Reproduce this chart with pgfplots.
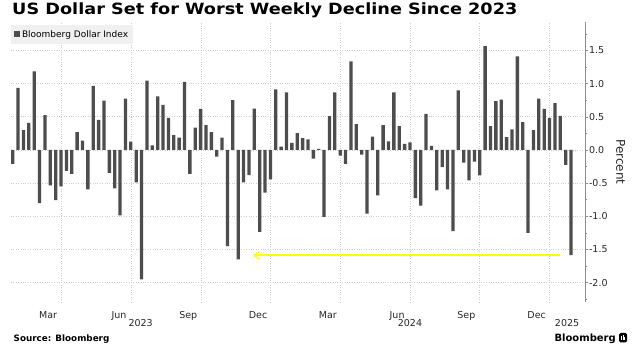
\documentclass[border=0pt]{standalone}
\usepackage{fontspec}
\setmainfont{DejaVu Sans}
\usepackage{pgfplots}
\usepackage{pgfplotstable}
\pgfplotsset{compat=1.18}
\usetikzlibrary{arrows.meta,calc}
\definecolor{barcol}{HTML}{4D4D4D}
\definecolor{gridcol}{HTML}{CDCDCD}
\definecolor{legbg}{HTML}{F0F0F0}
\definecolor{arrowcol}{HTML}{FFFF00}
\definecolor{axiscol}{HTML}{8C8C8C}

\pgfplotstableread{
idx val
1 -0.21
2 0.935
3 0.30
4 0.41
5 1.185
6 -0.80
7 0.525
8 -0.535
9 -0.755
10 -0.55
11 -0.315
12 -0.36
13 0.27
14 0.14
15 -0.595
16 0.965
17 0.455
18 0.745
19 -0.345
20 -0.58
21 -0.985
22 0.775
23 0.125
24 -0.49
25 -1.95
26 1.045
27 0.07
28 0.81
29 0.68
30 0.485
31 0.225
32 0.185
33 1.025
34 -0.36
35 0.335
36 0.62
37 0.375
38 0.27
39 -0.10
40 0.185
41 -1.45
42 0.75
43 -1.65
44 -0.49
45 -0.38
46 0.625
47 -1.235
48 -0.645
49 -0.445
50 0.915
51 0.05
52 0.87
53 0.105
54 0.255
55 0.18
56 0.16
57 -0.13
58 0.015
59 -1.01
60 0.51
61 0.87
62 -0.085
63 -0.21
64 1.335
65 0.39
66 -0.07
67 -0.96
68 0.20
69 -0.685
70 0.375
71 0.13
72 0.87
73 0.36
74 0.09
75 0.115
76 -0.725
77 -0.84
78 0.545
79 0.06
80 -0.61
81 -0.26
82 -0.595
83 -1.225
84 0.90
85 -0.19
86 -0.46
87 -0.175
88 -0.385
89 1.565
90 0.36
91 0.735
92 0.76
93 0.195
94 0.31
95 1.41
96 0.42
97 -1.25
98 0.30
99 0.775
100 0.62
101 0.485
102 0.705
103 0.515
104 -0.225
105 -1.585
}\dxytable

\begin{document}
\begin{tikzpicture}
\useasboundingbox (0,0) rectangle (640pt,355pt);
\fill[white] (0,0) rectangle (640pt,355pt);
\node[anchor=base west, inner sep=0pt, font=\fontsize{15.5}{15.5}\selectfont\bfseries] at (12pt,340pt) {\scalebox{1.14}[1]{US Dollar Set for Worst Weekly Decline Since 2023}};
\begin{axis}[
  at={(11pt,53pt)}, anchor=south west,
  scale only axis, width=574pt, height=280pt,
  clip=false,
  xmin=0.68, xmax=107.6, ymin=-2.293, ymax=1.93,
  axis y line*=right, axis x line*=bottom,
  x axis line style={draw=none},
  y axis line style={axiscol, line width=0.8pt},
  xtick={7.6,20.8,33.7,46.7,59.7,72.6,85.5,98.6},
  xticklabels={Mar,Jun,Sep,Dec,Mar,Jun,Sep,Dec},
  xtick style={draw=none},
  xticklabel style={anchor=base, yshift=-13.2pt, font=\fontsize{9.5}{9.5}\selectfont, text=black!85},
  extra x ticks={10.0,23.17,36.08,49.06,62.1,75.0,87.9,100.96},
  extra x tick labels={},
  extra x tick style={grid=major, tick style={draw=none}},
  ytick={-2,-1.5,-1,-0.5,0,0.5,1,1.5},
  minor ytick={-2.25,-1.75,-1.25,-0.75,-0.25,0.25,0.75,1.25,1.75},
  ymajorgrids,
  major grid style={gridcol, dotted, line width=0.7pt},
  tick align=outside,
  ytick style={axiscol, line width=0.6pt},
  major tick length=3pt, minor tick length=2pt,
  yticklabel style={font=\fontsize{9.5}{9.5}\selectfont, text=black!85, xshift=-2.5pt,
    /pgf/number format/fixed, /pgf/number format/fixed zerofill,
    /pgf/number format/precision=1, /pgf/number format/assume math mode=true},
  legend style={at={(0,1)}, anchor=north west, yshift=-2.5pt, fill=legbg, draw=none,
    font=\fontsize{9}{9}\selectfont, inner xsep=3pt, inner ysep=3.5pt, cells={anchor=west}},
]
\addplot[ybar, bar width=3.3pt, fill=barcol, draw=none,
  legend image code/.code={\fill[barcol] (0pt,-2.9pt) rectangle (5.8pt,2.9pt);}]
  table[x=idx, y=val]{\dxytable};
\addlegendentry{Bloomberg Dollar Index}
\draw[draw=arrowcol, line width=1.8pt] (axis cs:103,-1.59) -- (axis cs:46.3,-1.59);
\draw[draw=arrowcol, line width=1.4pt, line cap=round, line join=round] (axis cs:46.95,-1.535) -- (axis cs:45.95,-1.59) -- (axis cs:46.95,-1.645);
\node[anchor=base, yshift=-25pt, font=\fontsize{9.5}{9.5}\selectfont, text=black!85] at (axis cs:24.83,-2.293) {2023};
\node[anchor=base, yshift=-25pt, font=\fontsize{9.5}{9.5}\selectfont, text=black!85] at (axis cs:75.0,-2.293) {2024};
\node[anchor=base, yshift=-25pt, font=\fontsize{9.5}{9.5}\selectfont, text=black!85] at (axis cs:104.26,-2.293) {2025};
\end{axis}
\node[rotate=-90, anchor=south, inner sep=0pt, font=\fontsize{12}{12}\selectfont, text=black!85] at (616pt,193pt) {Percent};
\node[anchor=base west, inner sep=0pt, font=\fontsize{8.8}{8.8}\selectfont\bfseries] at (13.5pt,13.3pt) {Source: Bloomberg};
\node[anchor=base east, inner sep=0pt, font=\fontsize{10}{10}\selectfont\bfseries] at (616pt,13.3pt) {Bloomberg};
\fill[black, rounded corners=1.5pt] (619pt,12.5pt) rectangle (627pt,22pt);
\fill[white] (620.8pt,14.5pt) rectangle (621.8pt,19pt);
\fill[white] (622.6pt,14.5pt) rectangle (623.6pt,20pt);
\fill[white] (624.4pt,14.5pt) rectangle (625.4pt,18pt);
\end{tikzpicture}
\end{document}
